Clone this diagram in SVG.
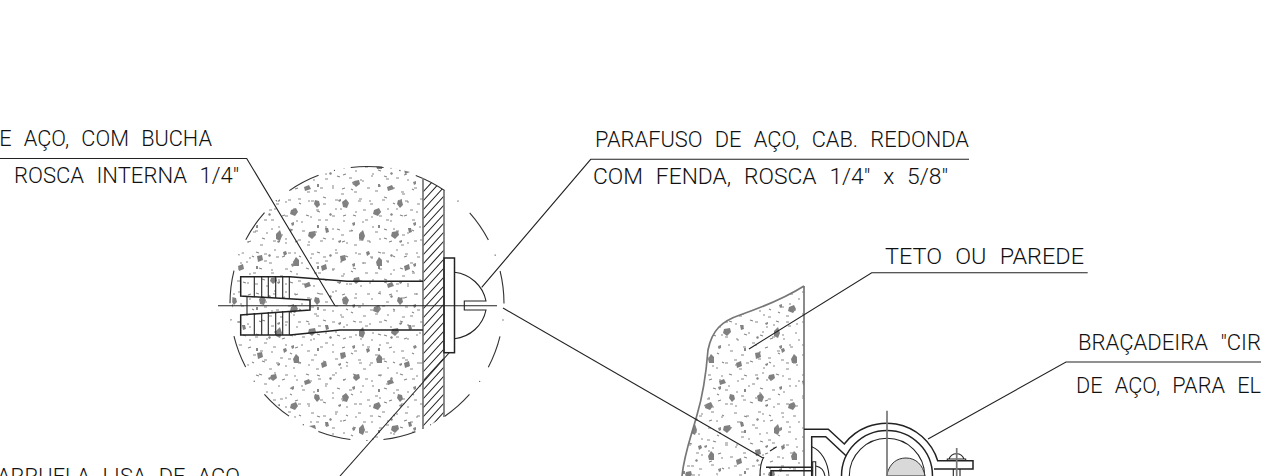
<svg xmlns="http://www.w3.org/2000/svg" width="1261" height="476" viewBox="0 0 1261 476">
<style>
text{font-family:"Roboto","Liberation Sans",Arial,sans-serif;font-weight:300;font-size:22px;word-spacing:7px;fill:#111}
.l{fill:none;stroke:#222;stroke-width:1.1}
.h{fill:none;stroke:#222;stroke-width:1.5}
.g{fill:none;stroke:#777;stroke-width:1.7}
.dash{fill:none;stroke:#333;stroke-width:1.1;stroke-dasharray:33 16.1 1 16.1;stroke-dashoffset:33}
</style>
<defs>
<pattern id="spa" width="83" height="97" patternUnits="userSpaceOnUse">
<g fill="#808080">
<path d="M10 8l4-3 3 4-2 5-4-1z"/><path d="M42 16l5-2 2 4-3 4-5-2z"/><path d="M66 6l4 1 1 4-3 3-3-4z"/><path d="M27 40l4-4 2 6-2 5-4-2z"/><path d="M60 38l6-1 1 4-4 4-4-3z"/><path d="M8 62l5-1 1 5-5 2z"/><path d="M44 68l3-5 3 3 0 6-5 0z"/><path d="M72 72l5-2 1 5-5 2z"/><path d="M22 84l5-1 1 4-4 3-3-3z"/><path d="M55 90l5-2 2 4-6 2z"/><path d="M76 34l3 0 1 4-3 1z"/><path d="M34 58l3-1 1 3-3 2z"/>
</g>
</pattern>
<pattern id="spb" width="47" height="53" patternUnits="userSpaceOnUse">
<g stroke="#888" stroke-width="1.2" fill="none">
<path d="M3 4h3M14 9h2M24 3l3 1M36 8h3M43 15h2M8 17l3 1M20 19h3M31 21h2M3 27h2M13 30l3-1M25 33h3M38 29h3M6 41h3M17 44l2 1M29 42h3M41 45h3M11 50h2M34 51h3"/>
</g>
</pattern>
<pattern id="spc" width="61" height="41" patternUnits="userSpaceOnUse">
<g stroke="#888" stroke-width="1.2" fill="none">
<path d="M5 12h2M12 6l3 1M20 15h3M30 4h2M38 11l3-1M50 7h2M57 17h2M9 27h3M18 33l3 1M27 24h2M36 30h3M46 25l2 1M54 35h3M3 37h2M41 38h2"/>
</g>
<g fill="#888"><path d="M24 9l2-1 1 2-2 1z"/><path d="M47 18l3-1 0 3-2 1z"/><path d="M12 20l2 0 0 3-2 0z"/><path d="M33 36l3-1 0 2-2 1z"/></g>
</pattern>
<clipPath id="c1"><path d="M423 177A137 137 0 1 0 423 429Z"/></clipPath>
<clipPath id="c2"><path d="M804 286C785 298 760 308 740 315C722 321 712 330 708 350C706 375 703 395 697 415C690 440 684 455 682 476H804Z"/></clipPath>
<clipPath id="c3"><path d="M423 178L444 190V417L423 429Z"/></clipPath>
</defs>
<rect width="1261" height="476" fill="#fff"/>

<g id="detail-concrete" clip-path="url(#c1)">
<rect x="225" y="165" width="200" height="280" fill="url(#spa)"/>
<rect x="225" y="165" width="200" height="280" fill="url(#spb)"/>
<rect x="225" y="165" width="200" height="280" fill="url(#spc)"/>
</g>
<g id="wall-concrete">
<g clip-path="url(#c2)">
<rect x="680" y="285" width="124" height="191" fill="url(#spa)"/>
<rect x="680" y="285" width="124" height="191" fill="url(#spb)"/>
<rect x="680" y="285" width="124" height="191" fill="url(#spc)"/>
</g>
<path class="g" d="M804 286C785 298 760 308 740 315C722 321 712 330 708 350C706 375 703 395 697 415C690 440 684 455 682 476"/><path class="g" d="M804 286V476"/></g>

<g id="detail-circle"><circle class="dash" cx="367" cy="303.5" r="137"/></g>

<g id="wall-section">
<path class="l" clip-path="url(#c3)" d="M423 192l21-23M423 201l21-23M423 210l21-23M423 219l21-23M423 228l21-23M423 237l21-23M423 246l21-23M423 255l21-23M423 264l21-23M423 273l21-23M423 282l21-23M423 291l21-23M423 300l21-23M423 309l21-23M423 318l21-23M423 327l21-23M423 336l21-23M423 345l21-23M423 354l21-23M423 363l21-23M423 372l21-23M423 381l21-23M423 390l21-23M423 399l21-23M423 408l21-23M423 417l21-23M423 426l21-23M423 435l21-23M423 444l21-23"/>
<path class="g" d="M423 178V429M444 190V417"/>
</g>

<g id="anchor">
<path class="h" d="M423 281.3H347L290 276.7H240.7V296L310 300V310L247 314.5L240.7 315V335H290L340 330H423"/>
<path class="l" d="M247 296V314.5"/>
<path class="l" d="M254.3 277V297M261.7 277V297M268.3 277V298M275.7 277V298M282.7 277V298M289.3 277V299M254.3 313V335M261.7 313V335M268.3 312V335M275.7 312V335M282.7 311V335M289.3 311V335"/>
</g>

<g id="screw">
<rect class="h" x="444" y="258" width="10.5" height="94.7" fill="#fff"/>
<path class="l" d="M454.5 272.3A36 36 0 0 1 486 301H464.3V310H486A36 36 0 0 1 454.5 338.7"/>
</g>

<g id="bracket">
<path class="h" d="M804 429.3H828.3L844.3 444A53.5 53.5 0 0 1 937.7 460.7H973V469H934"/>
<path class="h" d="M811.7 476V436.7H825.7L846 455.7"/>
<path class="h" d="M841.5 476A45.5 45.5 0 0 1 932.5 476"/>
<path class="l" d="M849.3 476A37.7 37.7 0 0 1 924.7 476"/>
<path class="l" d="M811.7 446.7C821 450 828 462 829 476"/>
<path d="M887 476V474C890 463 897 458 906 458C916 458 923 465 925 476Z" fill="#d9d9d9" stroke="#333" stroke-width="1"/>
<path class="h" d="M766 467.3H813M771 476V470.7H813"/>
<path class="l" d="M812.7 476V461.7H815.7V476M816 466C821 467 824 470 825 476"/>
<path class="l" d="M760 476C760 466 761 461 764 457M770 451L776.7 446.7"/>
<path class="l" d="M947.3 461V459H965.7V461M949 459A8 8 0 0 1 964 459"/>
<path class="l" d="M953.3 469V476M960 469V476"/>
<path class="g" d="M956.7 448V476"/>
<path class="g" d="M887 410.7V476"/>
</g>

<g id="connectors">
<path class="l" d="M218 305.7H497"/>
<path class="l" d="M0 158.5H246.7L335 305.7"/>
<path class="l" d="M969 159.3H590.7L481.7 287.3"/>
<path class="l" d="M340 476L449 353"/>
<path class="l" d="M503 308L763 458"/>
<path class="l" d="M1087.7 272.7H871.7L749 349"/>
<path class="l" d="M1261 362H1066L928 439"/>
</g>

<g id="labels">
<text x="-15" y="146" textLength="227" lengthAdjust="spacingAndGlyphs">DE AÇO, COM BUCHA</text>
<text x="14" y="183" textLength="225" lengthAdjust="spacingAndGlyphs">ROSCA INTERNA 1/4"</text>
<text x="595" y="147" textLength="374" lengthAdjust="spacingAndGlyphs">PARAFUSO DE AÇO, CAB. REDONDA</text>
<text x="593" y="184" textLength="355" lengthAdjust="spacingAndGlyphs">COM FENDA, ROSCA 1/4" x 5/8"</text>
<text x="885" y="263.5" textLength="199" lengthAdjust="spacingAndGlyphs">TETO OU PAREDE</text>
<text x="1078" y="349.5" textLength="183" lengthAdjust="spacingAndGlyphs">BRAÇADEIRA "CIR</text>
<text x="1076" y="392.5" textLength="185" lengthAdjust="spacingAndGlyphs">DE AÇO, PARA EL</text>
<text x="-3" y="484" textLength="243" lengthAdjust="spacingAndGlyphs">ARRUELA LISA DE AÇO</text>
</g>
</svg>
